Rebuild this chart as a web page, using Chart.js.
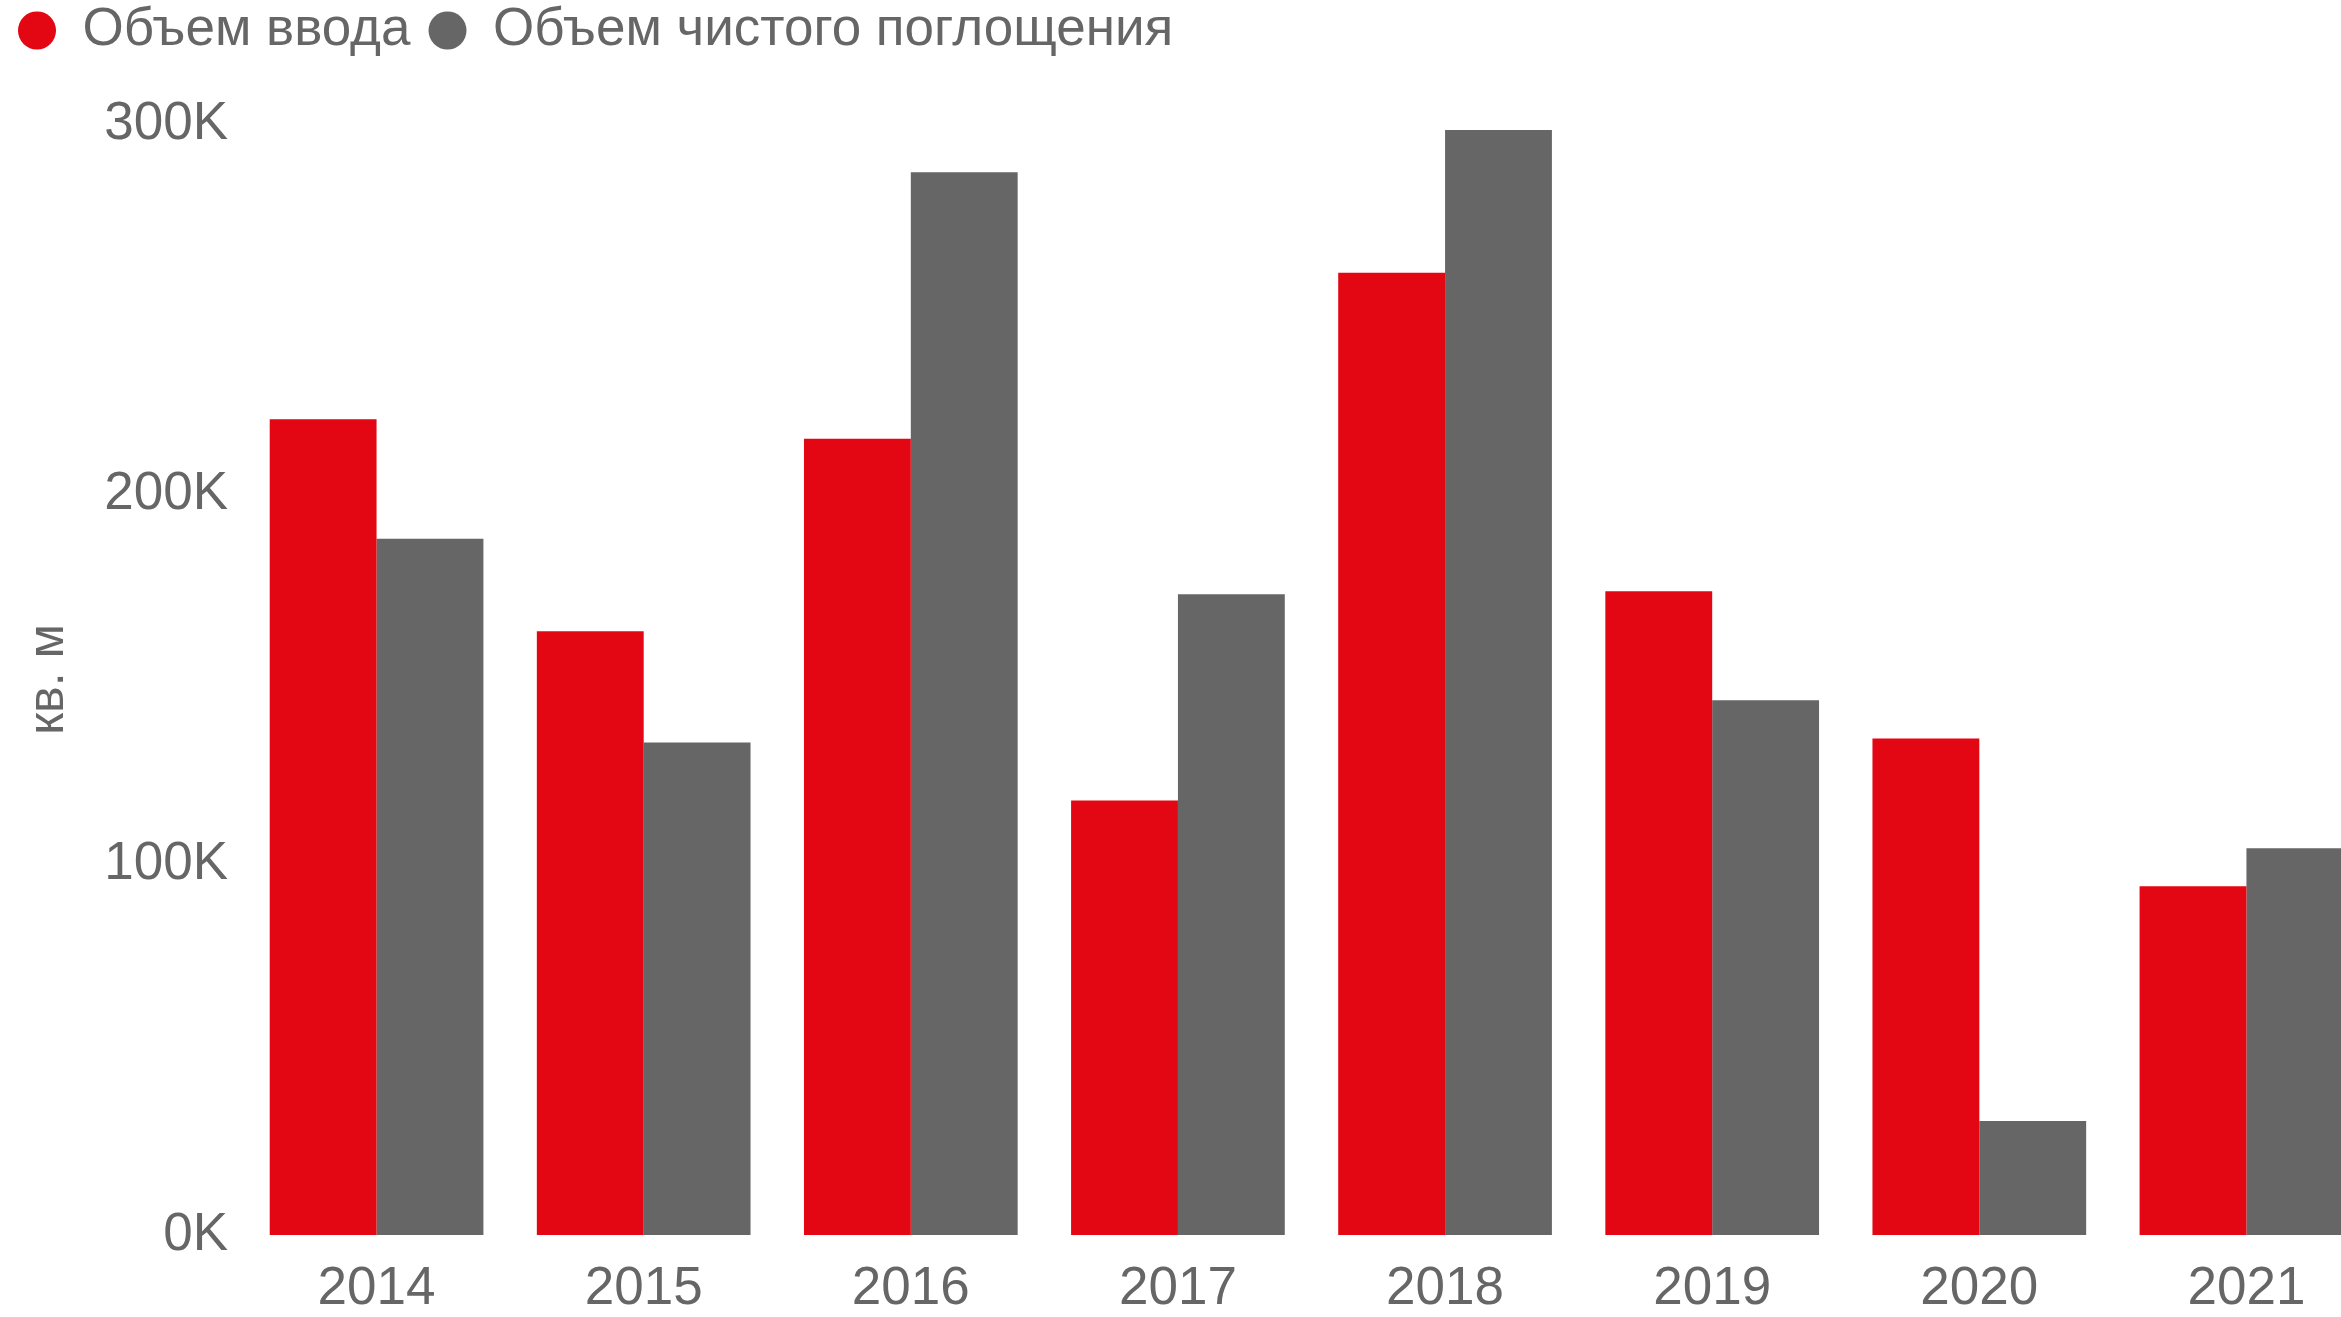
<!DOCTYPE html>
<html>
<head>
<meta charset="utf-8">
<script src="https://cdn.jsdelivr.net/npm/chart.js@4.4.0/dist/chart.umd.min.js"></script>
<style>
  html, body { margin: 0; padding: 0; background: #fff; overflow: hidden; }
  #wrap { position: absolute; left: 0; top: -14px; width: 2400px; height: 1331px; }
</style>
</head>
<body>
<div id="wrap"><canvas id="chart"></canvas></div>
<script>
// years on the x axis
var years = ['2014', '2015', '2016', '2017', '2018', '2019', '2020', '2021'];
// thousand sq. m
var vvod = [220.3, 163, 215, 117.3, 259.8, 173.8, 134.1, 94.2];
var pogloshchenie = [188, 133, 287, 173, 298.4, 144.4, 30.8, 104.4];
// y tick values
var yTicks = [0, 100000, 200000, 300000];

var textColor = '#666666';
var fontFamily = '"Liberation Sans", Arial, sans-serif';

var ctx = document.getElementById('chart').getContext('2d');
var chart = new Chart(ctx, {
    type: 'bar',
    data: {
        labels: years,
        datasets: [{
            label: 'Объем ввода',
            backgroundColor: '#E30613',
            borderWidth: 0,
            data: vvod.map(function (v) { return v * 1000; })
        }, {
            label: 'Объем чистого поглощения',
            backgroundColor: '#666666',
            borderWidth: 0,
            data: pogloshchenie.map(function (v) { return v * 1000; })
        }]
    },
    options: {
        responsive: true,
        maintainAspectRatio: false,
        animation: false,
        layout: { padding: { left: 0, right: 20, top: 0, bottom: 0 } },
        plugins: {
            tooltip: { enabled: false },
            legend: {
                position: 'top',
                align: 'start',
                labels: {
                    usePointStyle: true,
                    pointStyle: 'circle',
                    boxHeight: 27,
                    pointStyleWidth: 38,
                    padding: 18,
                    color: textColor,
                    font: { family: fontFamily, size: 53 }
                }
            },
            // empty spacer between the legend and the plot
            subtitle: {
                display: true,
                text: '',
                weight: 500,
                font: { size: 10, lineHeight: 1 },
                padding: { top: 47, bottom: 0 }
            }
        },
        datasets: {
            bar: { categoryPercentage: 0.8, barPercentage: 1.0 }
        },
        scales: {
            x: {
                grid: { display: false, drawTicks: false },
                border: { display: false },
                ticks: {
                    color: textColor,
                    padding: 23,
                    font: { family: fontFamily, size: 53 }
                },
                afterFit: function (scale) { scale.height = 82; }
            },
            y: {
                min: 0,
                max: 300000,
                grid: { display: false, drawTicks: false },
                border: { display: false },
                ticks: {
                    padding: 15,
                    color: textColor,
                    font: { family: fontFamily, size: 53 },
                    callback: function (v) { return (v / 1000) + 'K'; }
                },
                afterBuildTicks: function (scale) {
                    scale.ticks = yTicks.map(function (v) { return { value: v }; });
                },
                title: {
                    display: true,
                    text: 'кв. м',
                    color: textColor,
                    padding: { top: 19, bottom: 0 },
                    font: { family: fontFamily, size: 50 }
                },
                afterFit: function (scale) { scale.width = 243; }
            }
        }
    }
});
</script>
</body>
</html>
